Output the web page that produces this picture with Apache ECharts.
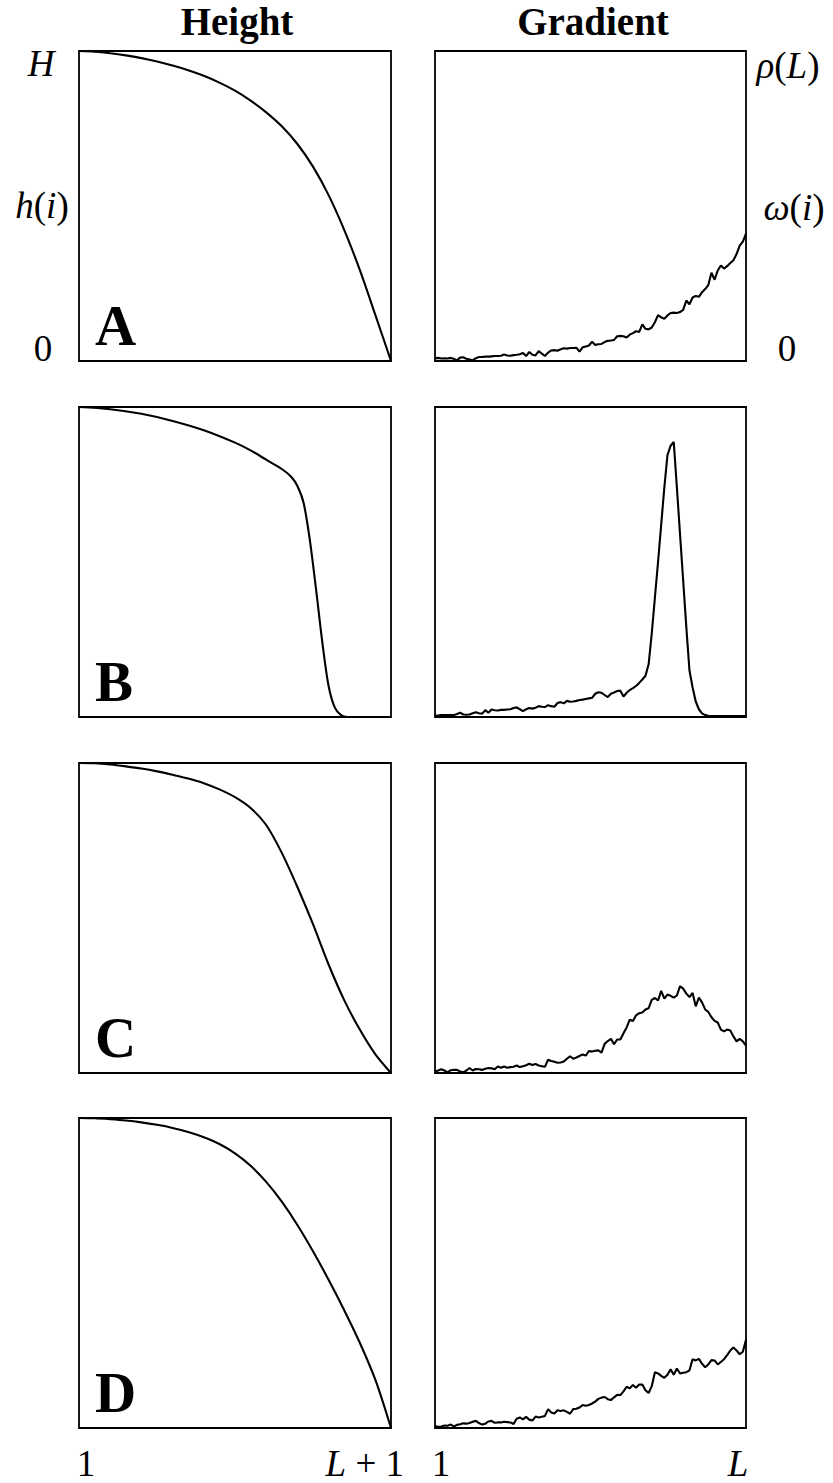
<!DOCTYPE html>
<html>
<head>
<meta charset="utf-8">
<script src="https://cdn.jsdelivr.net/npm/echarts@6/dist/echarts.min.js"></script>
<style>
  html, body { margin: 0; padding: 0; background: #fff; }
  #chart { width: 833px; height: 1483px; }
</style>
</head>
<body>
<div id="chart"></div>
<script>
// ---- data -------------------------------------------------------------
const panelNames = ['A', 'B', 'C', 'D'];
const columnTitles = ['Height', 'Gradient'];

// height profiles h(i)/H sampled along the normalised position (i-1)/L
const heightX = [0, 0.05, 0.10, 0.15, 0.20, 0.25, 0.30, 0.35, 0.40, 0.45, 0.50,
                 0.55, 0.60, 0.65, 0.70, 0.75, 0.80, 0.85, 0.90, 0.95, 1.00];
const heightA = [1.000, 0.998, 0.993, 0.986, 0.977, 0.966, 0.953, 0.938, 0.920, 0.898, 0.872,
                 0.840, 0.802, 0.757, 0.700, 0.627, 0.535, 0.423, 0.294, 0.148, 0.000];
const heightXB = [0, 0.10, 0.20, 0.30, 0.40, 0.50, 0.55, 0.60, 0.65, 0.68, 0.70,
                  0.72, 0.74, 0.76, 0.78, 0.80, 0.82, 0.84, 0.86, 0.90, 1.00];
const heightB = [1.000, 0.993, 0.978, 0.955, 0.925, 0.885, 0.860, 0.830, 0.800, 0.775, 0.745,
                 0.690, 0.570, 0.410, 0.240, 0.100, 0.030, 0.006, 0.000, 0.000, 0.000];
const heightC = [1.000, 0.999, 0.995, 0.989, 0.982, 0.973, 0.962, 0.950, 0.935, 0.915, 0.890,
                 0.855, 0.800, 0.710, 0.600, 0.480, 0.350, 0.235, 0.140, 0.060, 0.000];
const heightD = [1.000, 0.999, 0.996, 0.992, 0.986, 0.978, 0.968, 0.955, 0.938, 0.916, 0.886,
                 0.846, 0.794, 0.730, 0.655, 0.570, 0.478, 0.380, 0.275, 0.155, 0.000];

// gradient profiles w(i)/rho(L), one value per sampled position i = 1..L
const gradA = [0.009, 0.010, 0.008, 0.009, 0.008, 0.010, 0.007, 0.002, 0.011, 0.012,
               0.007, 0.005, 0.002, 0.009, 0.013, 0.013, 0.014, 0.014, 0.015, 0.016,
               0.016, 0.017, 0.021, 0.018, 0.017, 0.019, 0.020, 0.022, 0.026, 0.016,
               0.029, 0.020, 0.018, 0.032, 0.024, 0.016, 0.027, 0.034, 0.035, 0.033,
               0.038, 0.041, 0.040, 0.042, 0.042, 0.043, 0.030, 0.044, 0.047, 0.050,
               0.062, 0.052, 0.054, 0.055, 0.061, 0.065, 0.066, 0.068, 0.080, 0.081,
               0.080, 0.076, 0.085, 0.090, 0.096, 0.094, 0.118, 0.104, 0.102, 0.108,
               0.125, 0.148, 0.141, 0.136, 0.147, 0.155, 0.156, 0.155, 0.158, 0.165,
               0.195, 0.183, 0.205, 0.210, 0.207, 0.222, 0.232, 0.245, 0.285, 0.262,
               0.292, 0.308, 0.298, 0.306, 0.316, 0.325, 0.345, 0.372, 0.385, 0.411];
const gradB = [0.004, 0.005, 0.006, 0.006, 0.006, 0.006, 0.006, 0.010, 0.014, 0.008,
               0.007, 0.008, 0.012, 0.015, 0.012, 0.011, 0.022, 0.014, 0.024, 0.022,
               0.021, 0.023, 0.023, 0.024, 0.025, 0.029, 0.031, 0.025, 0.019, 0.025,
               0.029, 0.027, 0.030, 0.035, 0.033, 0.032, 0.038, 0.035, 0.033, 0.045,
               0.048, 0.044, 0.052, 0.049, 0.050, 0.052, 0.055, 0.056, 0.058, 0.060,
               0.062, 0.075, 0.080, 0.078, 0.071, 0.064, 0.075, 0.079, 0.084, 0.085,
               0.066, 0.078, 0.087, 0.093, 0.100, 0.110, 0.121, 0.133, 0.170, 0.270,
               0.385, 0.500, 0.620, 0.740, 0.845, 0.875, 0.887, 0.740, 0.590, 0.440,
               0.290, 0.150, 0.095, 0.050, 0.025, 0.012, 0.006, 0.004, 0.003, 0.003,
               0.003, 0.003, 0.003, 0.003, 0.003, 0.003, 0.003, 0.003, 0.003, 0.003];
const gradC = [0.004, 0.008, 0.012, 0.008, 0.002, 0.009, 0.010, 0.010, 0.005, 0.002,
               0.008, 0.016, 0.008, 0.013, 0.012, 0.010, 0.014, 0.016, 0.015, 0.012,
               0.021, 0.017, 0.021, 0.017, 0.019, 0.020, 0.024, 0.019, 0.022, 0.025,
               0.030, 0.026, 0.029, 0.024, 0.022, 0.020, 0.043, 0.039, 0.036, 0.033,
               0.034, 0.037, 0.046, 0.054, 0.046, 0.050, 0.055, 0.060, 0.056, 0.071,
               0.069, 0.072, 0.073, 0.066, 0.094, 0.103, 0.110, 0.093, 0.108, 0.108,
               0.128, 0.147, 0.172, 0.168, 0.186, 0.193, 0.195, 0.205, 0.209, 0.236,
               0.242, 0.234, 0.265, 0.240, 0.253, 0.249, 0.243, 0.250, 0.280, 0.272,
               0.256, 0.245, 0.258, 0.215, 0.243, 0.228, 0.205, 0.197, 0.180, 0.168,
               0.163, 0.140, 0.134, 0.140, 0.137, 0.118, 0.102, 0.110, 0.102, 0.088];
const gradD = [0.006, 0.004, 0.005, 0.008, 0.007, 0.011, 0.005, 0.010, 0.012, 0.015,
               0.014, 0.016, 0.020, 0.023, 0.016, 0.011, 0.014, 0.021, 0.023, 0.017,
               0.018, 0.018, 0.020, 0.019, 0.018, 0.013, 0.030, 0.034, 0.028, 0.036,
               0.027, 0.024, 0.037, 0.034, 0.036, 0.039, 0.061, 0.050, 0.047, 0.057,
               0.055, 0.057, 0.052, 0.046, 0.061, 0.062, 0.066, 0.074, 0.072, 0.074,
               0.079, 0.085, 0.094, 0.098, 0.100, 0.093, 0.090, 0.099, 0.107, 0.106,
               0.118, 0.133, 0.128, 0.139, 0.130, 0.140, 0.140, 0.122, 0.113, 0.135,
               0.180, 0.176, 0.168, 0.162, 0.172, 0.189, 0.172, 0.192, 0.176, 0.178,
               0.180, 0.186, 0.222, 0.218, 0.223, 0.207, 0.196, 0.205, 0.219, 0.218,
               0.205, 0.213, 0.222, 0.235, 0.250, 0.260, 0.250, 0.238, 0.246, 0.285];

// axis annotations (rich-text markup: {i|..} italic, {r|..} upright)
const heightTicks = ['{r|0}', '{i|h}{r|(}{i|i}{r|)}', '{i|H}'];
const gradTicks = ['{r|0}', '{i|ω}{r|(}{i|i}{r|)}', '{i|ρ}{r|(}{i|L}{r|)}'];
const heightXTicks = ['{r|1}', '{i|L}{r| + 1}'];
const gradXTicks = ['{r|1}', '{i|L}'];

// ---- layout -----------------------------------------------------------
const heightSeries = [
  { x: heightX, y: heightA },
  { x: heightXB, y: heightB },
  { x: heightX, y: heightC },
  { x: heightX, y: heightD }
];
const gradSeries = [gradA, gradB, gradC, gradD];

const rowTop = [51, 407, 763, 1118];
const panelH = 310;
const colLeft = [79, 435];
const colWidth = [312, 311];

const SERIF = "'Liberation Serif', 'DejaVu Serif', serif";
const MATH_SIZE = 37;
const mathRich = {
  i: { fontFamily: SERIF, fontStyle: 'italic', fontSize: MATH_SIZE, fill: '#000' },
  r: { fontFamily: SERIF, fontStyle: 'normal', fontSize: MATH_SIZE, fill: '#000' }
};

const grids = [], xAxes = [], yAxes = [], series = [];
rowTop.forEach((top, r) => {
  for (let c = 0; c < 2; c++) {
    const gi = grids.length;
    grids.push({
      left: colLeft[c], top: top, width: colWidth[c], height: panelH,
      show: true, borderColor: '#000', borderWidth: 1.8, backgroundColor: 'transparent'
    });
    xAxes.push({
      gridIndex: gi, type: 'value', min: 0, max: c === 0 ? 1 : gradSeries[r].length - 1,
      show: false
    });
    yAxes.push({ gridIndex: gi, type: 'value', min: 0, max: 1, show: false });
    const data = c === 0
      ? heightSeries[r].x.map((x, k) => [x, heightSeries[r].y[k]])
      : gradSeries[r].map((v, k) => [k, v]);
    series.push({
      type: 'line', xAxisIndex: gi, yAxisIndex: gi, data: data,
      showSymbol: false, smooth: c === 0 ? 0.3 : false, silent: true,
      lineStyle: { color: '#000', width: 2.1 }, z: 3
    });
  }
});

function label(x, y, text, align) {
  return {
    type: 'text', x: x, y: y, silent: true, z: 10,
    style: {
      text: text, align: align || 'center', verticalAlign: 'middle',
      font: MATH_SIZE + 'px ' + SERIF, fill: '#000', rich: mathRich
    }
  };
}

const graphics = [];
// column titles
columnTitles.forEach((t, c) => {
  graphics.push({
    type: 'text', x: c === 0 ? 237 : 593, y: 21, silent: true,
    style: { text: t, align: 'center', verticalAlign: 'middle',
             font: 'bold 39px ' + SERIF, fill: '#000' }
  });
});
// panel letters
panelNames.forEach((name, r) => {
  graphics.push({
    type: 'text', x: 95, y: rowTop[r] + panelH - 36, silent: true, z: 10,
    style: { text: name, align: 'left', verticalAlign: 'middle',
             font: 'bold 57px ' + SERIF, fill: '#000' }
  });
});
// vertical annotations on the first row
graphics.push(label(43, 348, heightTicks[0]));
graphics.push(label(42, 205, heightTicks[1]));
graphics.push(label(41, 63, heightTicks[2]));
graphics.push(label(787, 348, gradTicks[0]));
graphics.push(label(794, 207, gradTicks[1]));
graphics.push(label(788, 65, gradTicks[2]));
// horizontal annotations under the last row
graphics.push(label(86, 1463, heightXTicks[0]));
graphics.push(label(404, 1463, heightXTicks[1], 'right'));
graphics.push(label(441, 1463, gradXTicks[0]));
graphics.push(label(738, 1463, gradXTicks[1]));

const chart = echarts.init(document.getElementById('chart'), null,
  { renderer: 'svg', width: 833, height: 1483 });
chart.setOption({
  animation: false,
  backgroundColor: '#fff',
  grid: grids,
  xAxis: xAxes,
  yAxis: yAxes,
  series: series,
  graphic: { elements: graphics }
});
</script>
</body>
</html>
